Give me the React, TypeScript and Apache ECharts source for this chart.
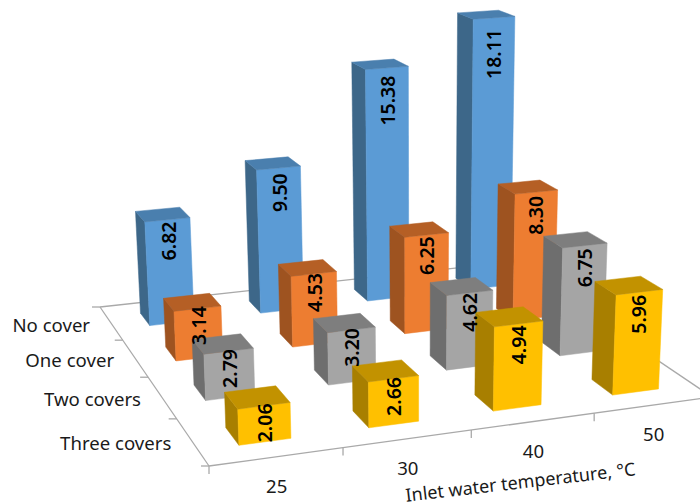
import React, { useEffect, useRef } from "react";
import * as echarts from "echarts";

const temperatures = ["25", "30", "40", "50"];
const covers = ["No cover", "One cover", "Two covers", "Three covers"];
const noCover = [6.82, 9.5, 15.38, 18.11];
const oneCover = [3.14, 4.53, 6.25, 8.3];
const twoCovers = [2.79, 3.2, 4.62, 6.75];
const threeCovers = [2.06, 2.66, 4.94, 5.96];
const axisTitle = "Inlet water temperature, °C";

const W = 700;
const H = 504;
const FONT = '"Noto Sans", sans-serif';

// Floor quad corners on screen: back-left, back-right, front-right, front-left.
const FLOOR = [
  [100, 307],
  [512, 262],
  [712, 397],
  [209, 466],
];
// Perspective of the vertical axis: vanishing point and strength per value unit.
const VANISH_X = 420;
const VANISH_Y = 6000;
const DEPTH_PER_UNIT = -0.00255;

function floorMatrix() {
  const [[x0, y0], [x1, y1], [x2, y2], [x3, y3]] = FLOOR;
  const dx1 = x1 - x2;
  const dx2 = x3 - x2;
  const sx = x0 - x1 + x2 - x3;
  const dy1 = y1 - y2;
  const dy2 = y3 - y2;
  const sy = y0 - y1 + y2 - y3;
  const den = dx1 * dy2 - dx2 * dy1;
  const g = (sx * dy2 - dx2 * sy) / den;
  const h = (dx1 * sy - sx * dy1) / den;
  return {
    a: x1 - x0 + g * x1,
    b: x3 - x0 + h * x3,
    c: x0,
    d: y1 - y0 + g * y1,
    e: y3 - y0 + h * y3,
    f: y0,
    g,
    h,
  };
}
const M = floorMatrix();

// s runs left to right on the floor, t back to front, z is the plotted value.
function project(s: number, t: number, z: number): number[] {
  const k = DEPTH_PER_UNIT * z;
  const w = M.g * s + M.h * t + 1 + k;
  return [
    (M.a * s + M.b * t + M.c + VANISH_X * k) / w,
    (M.d * s + M.e * t + M.f + VANISH_Y * k) / w,
  ];
}

const BAR_WIDTH = 0.395;
const BAR_DEPTH = 0.38;

type Shades = { front: string; side: string; top: string };
const BLUE: Shades = { front: "#5B9BD5", side: "#3D6789", top: "#4A7FAE" };
const ORANGE: Shades = { front: "#ED7D31", side: "#9E5320", top: "#B55F25" };
const GRAY: Shades = { front: "#A5A5A5", side: "#6E6E6E", top: "#7E7E7E" };
const GOLD: Shades = { front: "#FFC000", side: "#A87F00", top: "#C29200" };

function floorPosition(params: any, api: any, col: number, row: number) {
  const p = api.coord([col, row]);
  const bw = api.size([1, 0])[0] / W;
  const bh = api.size([0, 1])[1] / H;
  return { s: p[0] / W, t: p[1] / H, bw, bh };
}

function barRenderer(shades: Shades) {
  return (params: any, api: any) => {
    const col = api.value(0);
    const row = api.value(1);
    const v = api.value(2);
    const { s, t, bw, bh } = floorPosition(params, api, col, row);
    const s0 = s - (BAR_WIDTH * bw) / 2;
    const s1 = s + (BAR_WIDTH * bw) / 2;
    const t0 = t - (BAR_DEPTH * bh) / 2;
    const t1 = t + (BAR_DEPTH * bh) / 2;
    const face = (points: number[][], fill: string) => ({
      type: "polygon",
      shape: { points },
      style: { fill, stroke: fill, lineWidth: 0.5 },
    });
    return {
      type: "group",
      children: [
        face(
          [project(s0, t0, 0), project(s0, t1, 0), project(s0, t1, v), project(s0, t0, v)],
          shades.side,
        ),
        face(
          [project(s0, t1, 0), project(s1, t1, 0), project(s1, t1, v), project(s0, t1, v)],
          shades.front,
        ),
        face(
          [project(s0, t0, v), project(s1, t0, v), project(s1, t1, v), project(s0, t1, v)],
          shades.top,
        ),
      ],
    };
  };
}

function labelRenderer(params: any, api: any) {
  const col = api.value(0);
  const row = api.value(1);
  const v = api.value(2);
  const { s, t, bh } = floorPosition(params, api, col, row);
  // Labels sit in the upper part of the front face, lower on the taller columns.
  const drop = 0.8 + 0.085 * v;
  const [x, y] = project(s, t + (BAR_DEPTH * bh) / 2, v - drop);
  return {
    type: "text",
    x,
    y,
    rotation: Math.PI / 2,
    style: {
      text: v.toFixed(2),
      fill: "#000",
      font: `600 19.5px ${FONT}`,
      align: "center",
      verticalAlign: "middle",
    },
  };
}

function floorRenderer(params: any, api: any) {
  const line = (a: number[], b: number[]) => ({
    type: "line",
    shape: { x1: a[0], y1: a[1], x2: b[0], y2: b[1] },
    style: { stroke: "#A9A9A9", lineWidth: 1.3 },
  });
  const children: any[] = [];
  const c = [project(0, 0, 0), project(1, 0, 0), project(1, 1, 0), project(0, 1, 0)];
  children.push(line(c[0], c[1]), line(c[1], c[2]), line(c[2], c[3]), line(c[3], c[0]));
  for (let i = 0; i <= temperatures.length; i++) {
    const p = project(i / temperatures.length, 1, 0);
    children.push(line(p, [p[0], p[1] + 8]));
  }
  for (let j = 0; j <= covers.length; j++) {
    const p = project(0, j / covers.length, 0);
    children.push(line(p, [p[0] - 8, p[1]]));
  }
  return { type: "group", children };
}

function axisTextRenderer(params: any, api: any) {
  const children: any[] = [];
  const textFont = `400 18.6px ${FONT}`;
  temperatures.forEach((label, i) => {
    const p = project((i + 0.5) / temperatures.length, 1, 0);
    children.push({
      type: "text",
      x: p[0],
      y: p[1] + 29,
      style: { text: label, fill: "#1A1A1A", font: textFont, align: "center", verticalAlign: "middle" },
    });
  });
  covers.forEach((label, j) => {
    const p = project(0, (j + 0.5) / covers.length, 0);
    children.push({
      type: "text",
      x: p[0] - 21,
      y: p[1] + 1,
      style: { text: label, fill: "#1A1A1A", font: textFont, align: "right", verticalAlign: "middle" },
    });
  });
  const mid = project(0.625, 1, 0);
  children.push({
    type: "text",
    x: mid[0] - 13,
    y: mid[1] + 60,
    rotation: 0.115,
    style: {
      text: axisTitle,
      fill: "#1A1A1A",
      font: `400 18px ${FONT}`,
      lineHeight: 14,
      align: "center",
      verticalAlign: "middle",
    },
  });
  return { type: "group", children };
}

const rows = [noCover, oneCover, twoCovers, threeCovers];
const shadesByRow = [BLUE, ORANGE, GRAY, GOLD];
const cells = (values: number[], row: number) => values.map((v, col) => [col, row, v]);

export default function App() {
  const ref = useRef<HTMLDivElement>(null);
  useEffect(() => {
    document.body.style.margin = "0";
    const chart = echarts.init(ref.current!, undefined, { renderer: "svg", width: W, height: H });
    const base = { type: "custom", coordinateSystem: "cartesian2d", clip: false, silent: true };
    chart.setOption({
      animation: false,
      backgroundColor: "#fff",
      grid: { left: 0, top: 0, width: W, height: H },
      xAxis: { type: "category", data: temperatures, show: false },
      yAxis: { type: "category", data: covers, inverse: true, show: false },
      series: [
        { ...base, name: "Floor", renderItem: floorRenderer, data: [[0, 0, 0]], encode: { x: 0, y: 1 } },
        ...rows.map((values, row) => ({
          ...base,
          name: covers[row],
          renderItem: barRenderer(shadesByRow[row]),
          data: cells(values, row),
          encode: { x: 0, y: 1 },
        })),
        ...rows.map((values, row) => ({
          ...base,
          name: `${covers[row]} labels`,
          renderItem: labelRenderer,
          data: cells(values, row),
          encode: { x: 0, y: 1 },
        })),
        { ...base, name: "Axis text", renderItem: axisTextRenderer, data: [[0, 0, 0]], encode: { x: 0, y: 1 } },
      ],
    });
    return () => chart.dispose();
  }, []);
  return <div ref={ref} style={{ width: W, height: H }} />;
}
